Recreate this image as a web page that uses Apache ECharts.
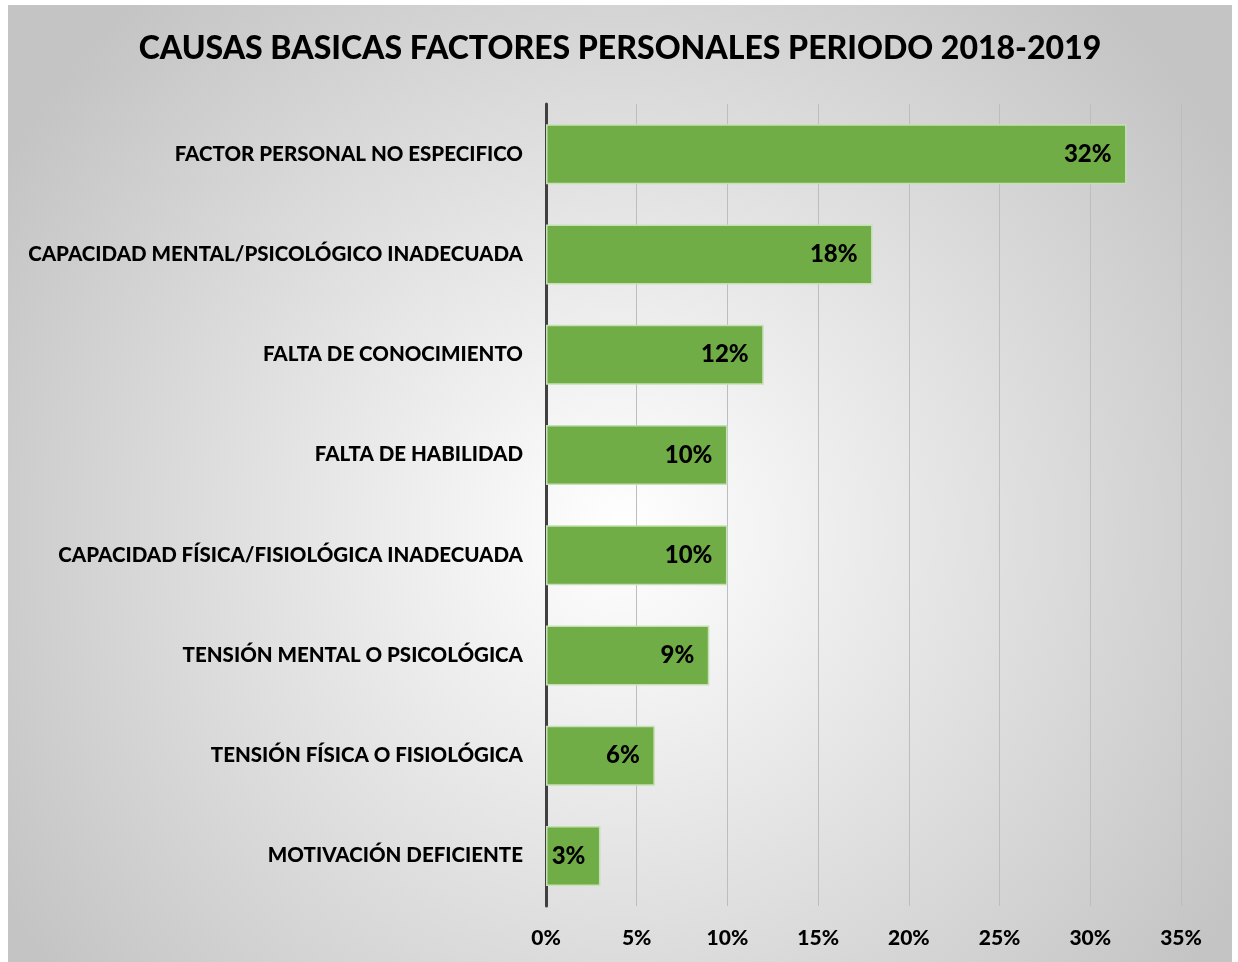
<!DOCTYPE html>
<html>
<head>
<meta charset="utf-8">
<script src="https://cdn.jsdelivr.net/npm/echarts@6/dist/echarts.min.js"></script>
<style>
	html, body { margin: 0; padding: 0; background: #fff; }
	#chart { position: absolute; left: 8px; top: 5px; width: 1224px; height: 957px; }
</style>
</head>
<body>
<div id="chart"></div>
<script>
	// categories from top to bottom
	var categories = [
		'FACTOR PERSONAL NO ESPECIFICO',
		'CAPACIDAD MENTAL/PSICOLÓGICO INADECUADA',
		'FALTA DE CONOCIMIENTO',
		'FALTA DE HABILIDAD',
		'CAPACIDAD FÍSICA/FISIOLÓGICA INADECUADA',
		'TENSIÓN MENTAL O PSICOLÓGICA',
		'TENSIÓN FÍSICA O FISIOLÓGICA',
		'MOTIVACIÓN DEFICIENTE'
	];
	var values = [32, 18, 12, 10, 10, 9, 6, 3];	// porcentaje
	var ticks = [0, 5, 10, 15, 20, 25, 30, 35];

	var font = 'Lato, "Open Sans", sans-serif';
	var myChart = echarts.init(document.getElementById('chart'));
	var option = {
		backgroundColor: {
			type: 'radial', x: 0.5, y: 0.55, r: 0.75,
			colorStops: [
				{ offset: 0, color: '#ffffff' },
				{ offset: 1, color: '#c4c4c4' }
			]
		},
		title: {
			text: 'CAUSAS BASICAS FACTORES PERSONALES PERIODO 2018-2019',
			left: 'center', top: 23,
			textStyle: { fontFamily: font, fontSize: 32, fontWeight: 900, color: '#000' }
		},
		grid: { left: 538, right: 51, top: 99, bottom: 56 },
		xAxis: {
			type: 'value', min: ticks[0], max: ticks[ticks.length - 1], interval: 5,
			axisLine: { show: false },
			axisTick: { show: false },
			splitLine: { lineStyle: { color: '#bdbdbd', width: 1 } },
			axisLabel: {
				formatter: '{value}%', margin: 22,
				fontFamily: font, fontSize: 21, fontWeight: 900, color: '#000'
			}
		},
		yAxis: {
			type: 'category', inverse: true, data: categories,
			axisLine: { lineStyle: { color: '#404040', width: 3 } },
			axisTick: { show: false },
			axisLabel: {
				margin: 23,
				fontFamily: font, fontSize: 20.5, fontWeight: 900, color: '#000'
			}
		},
		series: [{
			type: 'bar', data: values, barWidth: 60,
			itemStyle: { color: '#70ad47', borderColor: '#c5e0b4', borderWidth: 1.5 },
			label: {
				show: true, position: 'insideRight', distance: 15,
				formatter: '{c}%',
				fontFamily: font, fontSize: 24, fontWeight: 900, color: '#000'
			}
		}]
	};
	myChart.setOption(option);
</script>
</body>
</html>
